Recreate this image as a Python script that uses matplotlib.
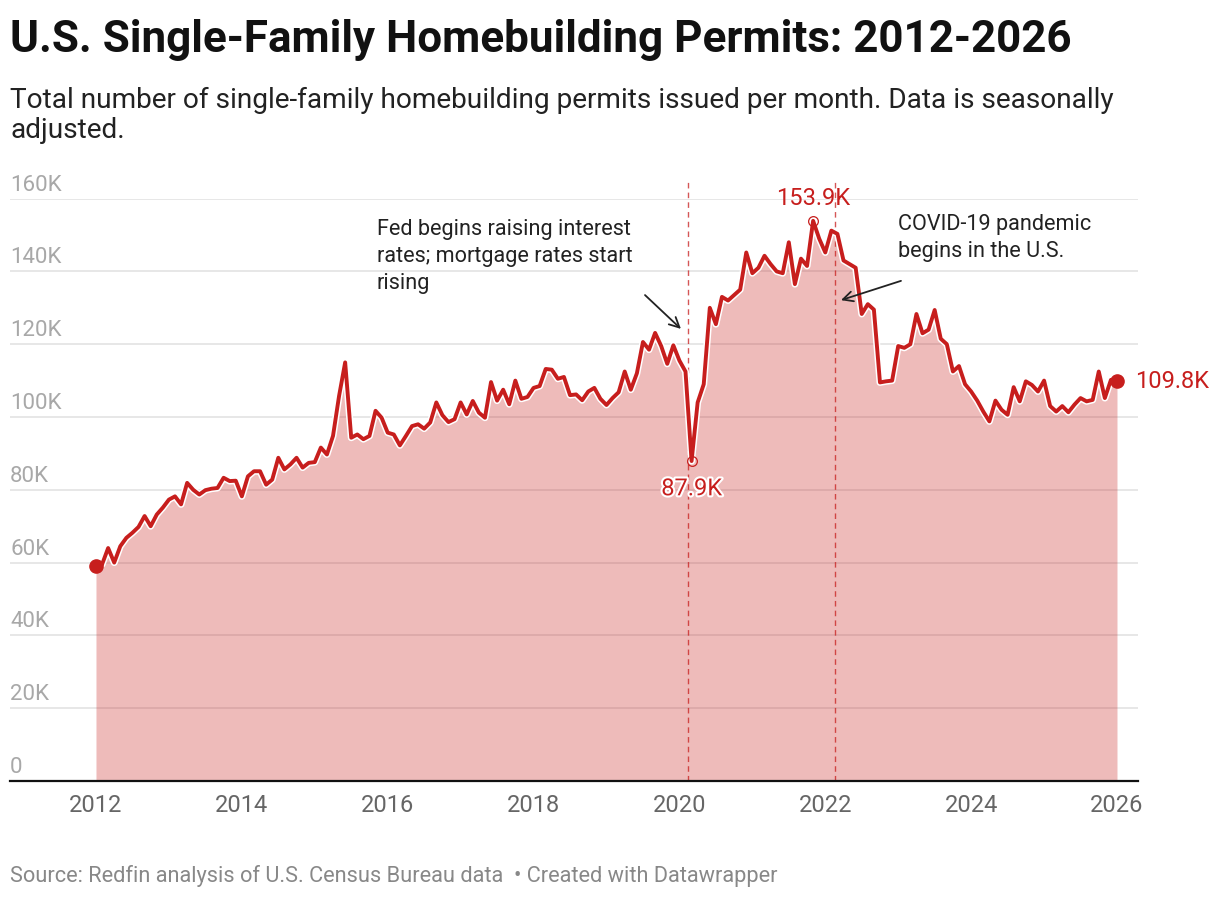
import matplotlib.pyplot as plt
import matplotlib.patheffects as pe
import numpy as np

plt.rcParams['font.family'] = ['Roboto', 'DejaVu Sans']

# monthly single-family permits (thousands), Jan 2012 -> Jan 2026
start_year = 2012
permits_k = [
    59.0, 59.5, 64.0, 60.0, 64.5, 66.8, 68.2, 69.8, 72.8, 70.0, 73.2, 75.1,
    77.3, 78.2, 76.0, 81.9, 80.0, 78.7, 79.9, 80.3, 80.5, 83.3, 82.4, 82.5,
    78.2, 83.7, 85.1, 85.1, 81.4, 82.8, 88.8, 85.6, 87.0, 88.8, 86.1, 87.4,
    87.6, 91.6, 89.7, 94.8, 105.8, 115.0, 94.3, 95.2, 93.9, 94.8, 101.7, 99.8,
    95.7, 95.2, 92.2, 94.8, 97.5, 98.0, 96.8, 98.5, 104.0, 100.5, 98.6, 99.4,
    104.0, 100.7, 104.4, 101.2, 99.8, 109.6, 104.5, 107.5, 103.5, 110.0, 105.0, 105.5,
    108.0, 108.5, 113.2, 113.0, 110.5, 111.0, 106.0, 106.2, 104.6, 107.0, 108.0, 105.0,
    103.3, 105.2, 106.8, 112.5, 107.5, 112.0, 120.6, 118.5, 123.1, 119.5, 114.6, 119.7,
    115.5, 112.5, 87.9, 104.0, 109.0, 130.0, 125.5, 133.0, 132.0, 133.5, 135.0, 145.2,
    139.5, 141.0, 144.3, 142.0, 140.0, 139.5, 148.0, 136.5, 143.5, 141.5, 153.9, 149.0,
    145.2, 151.2, 150.3, 143.0, 142.0, 141.0, 128.3, 131.0, 129.5, 109.5, 109.8, 110.0,
    119.5, 119.0, 120.0, 128.3, 123.0, 124.0, 129.4, 121.5, 120.0, 112.5, 114.0, 109.0,
    107.0, 104.5, 101.5, 98.8, 104.5, 102.0, 100.6, 108.2, 104.3, 109.8, 108.8, 107.0,
    110.0, 103.0, 101.5, 103.0, 101.3, 103.4, 105.2, 104.3, 104.7, 112.5, 105.2, 110.2,
    109.8,
]
year_ticks = [2012, 2014, 2016, 2018, 2020, 2022, 2024, 2026]
y_ticks = [0, 20, 40, 60, 80, 100, 120, 140, 160]
y_tick_labels = ['0', '20K', '40K', '60K', '80K', '100K', '120K', '140K', '160K']
event_lines = [2020.12, 2022.13]

red = '#c71e1d'

months = np.arange(len(permits_k))
x = start_year + months / 12
y = np.array(permits_k)
i_max = int(np.argmax(y))
i_min = int(np.argmin(y[60:])) + 60

fig = plt.figure(figsize=(12.2, 8.98), dpi=100)
ax = fig.add_axes([10 / 1220, 117 / 898, 1128 / 1220, 582.4 / 898])
ax.set_xlim(2010.821, 2026.288)
ax.set_ylim(0, 160)

# grid + axis
ax.set_axisbelow(True)
for v in y_ticks[1:]:
    ax.axhline(v, color='#e5e5e5', lw=1.3, zorder=0)
for s in ['top', 'right', 'left']:
    ax.spines[s].set_visible(False)
ax.spines['bottom'].set_color('#111111')
ax.spines['bottom'].set_linewidth(1.6)
ax.set_yticks([])
ax.set_xticks(year_ticks)
ax.set_xticklabels([str(t) for t in year_ticks], fontsize=17, color='#666666')
ax.tick_params(axis='x', length=0, pad=9)

for v, lab in zip(y_ticks, y_tick_labels):
    ax.text(2010.821, v + 0.8, lab, fontsize=16, color='#a8a8a8',
            ha='left', va='bottom')

# area + line
ax.fill_between(x, 0, y, color=red, alpha=0.3, lw=0, zorder=1)
ax.plot(x, y, color=red, lw=2.8, solid_joinstyle='round', solid_capstyle='round',
        zorder=3, path_effects=[pe.withStroke(linewidth=5.0, foreground='white')])

# event lines
for ex in event_lines:
    ax.vlines(ex, 0, 165, colors=red, linestyles=(0, (4, 3)), lw=1.0,
              alpha=0.75, clip_on=False, zorder=2)

# end markers
ax.plot([x[0], x[-1]], [y[0], y[-1]], 'o', color=red, ms=9.5, zorder=4)
ax.plot([x[i_max], x[i_min]], [y[i_max], y[i_min]], 'o', mfc='none',
        mec=red, mew=0.9, ms=7, zorder=4)

ax.annotate(f'{y[i_max]:.1f}K', (x[i_max], y[i_max]), xytext=(0, 16),
            textcoords='offset points', ha='center', va='center',
            fontsize=17, color=red)
ax.annotate(f'{y[i_min]:.1f}K', (x[i_min], y[i_min]), xytext=(0, -20),
            textcoords='offset points', ha='center', va='center',
            fontsize=17, color=red,
            path_effects=[pe.withStroke(linewidth=3, foreground='white')])
ax.annotate(f'{y[-1]:.1f}K', (x[-1], y[-1]), xytext=(13, 0),
            textcoords='offset points', ha='left', va='center',
            fontsize=17, color=red)

# text annotations
ax.text(2015.853, 154.4, 'Fed begins raising interest\nrates; mortgage rates start\nrising',
        fontsize=15.6, color='#222222', ha='left', va='top', linespacing=1.37)
ax.annotate('', xy=(2020.021, 124.2), xytext=(2019.528, 133.5),
            arrowprops=dict(arrowstyle='->', color='#222222', lw=1.3,
                            mutation_scale=18, shrinkA=0, shrinkB=0))
ax.text(2022.997, 155.8, 'COVID-19 pandemic\nbegins in the U.S.',
        fontsize=15.6, color='#222222', ha='left', va='top', linespacing=1.37)
ax.annotate('', xy=(2022.215, 132.1), xytext=(2023.038, 137.4),
            arrowprops=dict(arrowstyle='->', color='#222222', lw=1.3,
                            mutation_scale=18, shrinkA=0, shrinkB=0))

# titles
fig.text(10 / 1220, 1 - 52 / 898, 'U.S. Single-Family Homebuilding Permits: 2012-2026',
         fontsize=31.7, fontweight='bold', color='#111111', ha='left', va='baseline')
fig.text(10 / 1220, 1 - 108 / 898,
         'Total number of single-family homebuilding permits issued per month. Data is seasonally',
         fontsize=20.2, color='#222222', ha='left', va='baseline')
fig.text(10 / 1220, 1 - 138 / 898, 'adjusted.',
         fontsize=20.2, color='#222222', ha='left', va='baseline')
fig.text(10 / 1220, 1 - 882 / 898,
         'Source: Redfin analysis of U.S. Census Bureau data  \u2022 Created with Datawrapper',
         fontsize=15.7, color='#888888', ha='left', va='baseline')

fig.savefig('out.png', dpi=100)
